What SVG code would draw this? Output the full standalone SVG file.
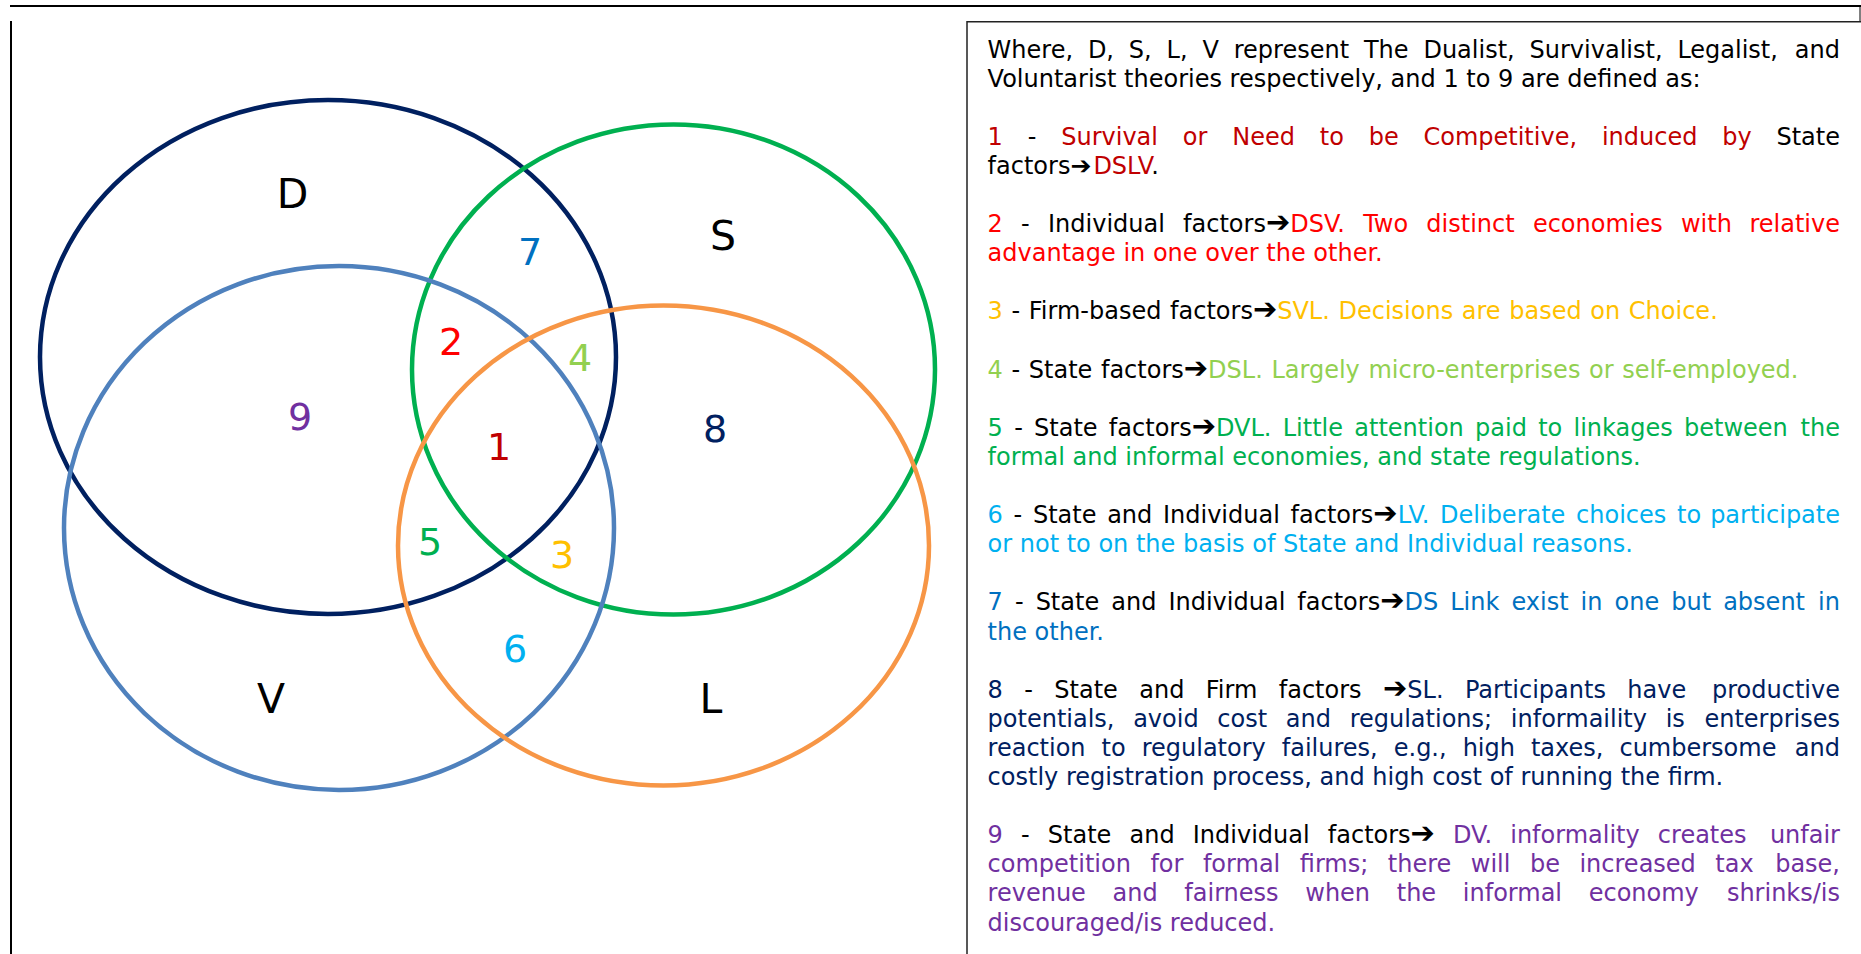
<svg xmlns="http://www.w3.org/2000/svg" width="1861" height="954" viewBox="0 0 1861 954">
  <style>
    .set { fill: none; stroke-width: 4.5; }
    .letter { font-family: "DejaVu Sans", Verdana, sans-serif; font-size: 41px; fill: #000; text-anchor: middle; }
    .num { font-family: "DejaVu Sans", Verdana, sans-serif; font-size: 38px; text-anchor: middle; }
    .t { font-family: "DejaVu Sans", Verdana, sans-serif; font-size: 24px; fill: #000; }
    .ar { font-size: 29px; fill: #000; }
    .ar-sm { font-size: 25px; fill: #000; }
    .e { text-anchor: end; }
    .c1 { fill: #C00000; }
    .c2 { fill: #FF0000; }
    .c3 { fill: #FFC000; }
    .c4 { fill: #92D050; }
    .c5 { fill: #00B050; }
    .c6 { fill: #00B0F0; }
    .c7 { fill: #0070C0; }
    .c8 { fill: #002060; }
    .c9 { fill: #7030A0; }
    .frame { fill: none; stroke: #000; }
  </style>

  <rect width="1861" height="954" fill="#fff"/>

  <!-- page frame -->
  <g id="frame">
    <line class="frame" x1="10" y1="6" x2="1861" y2="6" stroke-width="2"/>
    <line class="frame" x1="1860" y1="6" x2="1860" y2="22" stroke-width="1" stroke="#444"/>
    <line class="frame" x1="11" y1="21" x2="11" y2="954" stroke-width="2"/>
  </g>

  <!-- the four theory sets -->
  <g id="set-D">
    <ellipse class="set" cx="328" cy="357" rx="288" ry="257" stroke="#002060"/>
    <text class="letter" x="292.5" y="208">D</text>
  </g>
  <g id="set-S">
    <ellipse class="set" cx="673.5" cy="369.5" rx="261.5" ry="245" stroke="#00B050"/>
    <text class="letter" x="723" y="250">S</text>
  </g>
  <g id="set-V">
    <ellipse class="set" cx="339" cy="528" rx="275" ry="262" stroke="#4F81BD"/>
    <text class="letter" x="271" y="713">V</text>
  </g>
  <g id="set-L">
    <ellipse class="set" cx="663.5" cy="545.5" rx="265.5" ry="240" stroke="#F79646"/>
    <text class="letter" x="711" y="713">L</text>
  </g>

  <!-- numbered overlap regions -->
  <g id="regions">
    <g id="region-1"><text class="num c1" x="499" y="460">1</text></g>
    <g id="region-2"><text class="num c2" x="451" y="355">2</text></g>
    <g id="region-3"><text class="num c3" x="562" y="568">3</text></g>
    <g id="region-4"><text class="num c4" x="580" y="371">4</text></g>
    <g id="region-5"><text class="num c5" x="430" y="555">5</text></g>
    <g id="region-6"><text class="num c6" x="515" y="662">6</text></g>
    <g id="region-7"><text class="num c7" x="530" y="265">7</text></g>
    <g id="region-8"><text class="num c8" x="715" y="442">8</text></g>
    <g id="region-9"><text class="num c9" x="300" y="430">9</text></g>
  </g>

  <!-- legend box: justified lines use word-spacing, last word pinned to the right margin -->
  <g id="legend">
    <path d="M967,954 V21.7 H1861" fill="none" stroke="#222" stroke-width="1.5"/>

    <text class="t" y="57.5" style="word-spacing:7.23px"><tspan x="987.6">Where, D, S, L, V represent The Dualist, Survivalist, Legalist,</tspan><tspan x="1840" class="e">and</tspan></text>
    <text class="t" x="987.6" y="86.6">Voluntarist theories respectively, and 1 to 9 are defined as:</text>

    <text class="t" y="144.8" style="word-spacing:17.2px"><tspan x="987.6" class="c1">1</tspan> - <tspan class="c1">Survival or Need to be Competitive, induced by</tspan><tspan x="1840" class="e">State</tspan></text>
    <text class="t" x="987.6" y="173.9">factors<tspan class="ar-sm">➔</tspan><tspan class="c1" dx="2">DSLV</tspan>.</text>

    <text class="t" y="232.1" style="word-spacing:10.6px"><tspan x="987.6" class="c2">2</tspan> - Individual factors<tspan class="ar">➔</tspan><tspan class="c2">DSV. Two distinct economies with</tspan><tspan x="1840" class="e c2">relative</tspan></text>
    <text class="t c2" x="987.6" y="261.2">advantage in one over the other.</text>

    <text class="t" x="987.6" y="319.4" style="word-spacing:1px"><tspan class="c3">3</tspan> - Firm-based factors<tspan class="ar">➔</tspan><tspan class="c3">SVL. Decisions are based on Choice.</tspan></text>

    <text class="t" x="987.6" y="377.6" style="word-spacing:1px"><tspan class="c4">4</tspan> - State factors<tspan class="ar">➔</tspan><tspan class="c4">DSL. Largely micro-enterprises or self-employed.</tspan></text>

    <text class="t" y="435.8" style="word-spacing:3.64px"><tspan x="987.6" class="c5">5</tspan> - State factors<tspan class="ar">➔</tspan><tspan class="c5">DVL. Little attention paid to linkages between</tspan><tspan x="1840" class="e c5">the</tspan></text>
    <text class="t c5" x="987.6" y="464.9">formal and informal economies, and state regulations.</text>

    <text class="t" y="523.1" style="word-spacing:3.06px"><tspan x="987.6" class="c6">6</tspan> - State and Individual factors<tspan class="ar">➔</tspan><tspan class="c6">LV. Deliberate choices to</tspan><tspan x="1840" class="e c6">participate</tspan></text>
    <text class="t c6" x="987.6" y="552.2">or not to on the basis of State and Individual reasons.</text>

    <text class="t" y="610.4" style="word-spacing:4.42px"><tspan x="987.6" class="c7">7</tspan> - State and Individual factors<tspan class="ar">➔</tspan><tspan class="c7">DS Link exist in one but absent</tspan><tspan x="1840" class="e c7">in</tspan></text>
    <text class="t c7" x="987.6" y="639.5">the other.</text>

    <text class="t" y="697.7" style="word-spacing:13.77px"><tspan x="987.6" class="c8">8</tspan> - State and Firm factors <tspan class="ar">➔</tspan><tspan class="c8">SL. Participants have</tspan><tspan x="1840" class="e c8">productive</tspan></text>
    <text class="t c8" y="726.8" style="word-spacing:11.05px"><tspan x="987.6">potentials, avoid cost and regulations; informaility is</tspan><tspan x="1840" class="e">enterprises</tspan></text>
    <text class="t c8" y="755.9" style="word-spacing:8.38px"><tspan x="987.6">reaction to regulatory failures, e.g., high taxes, cumbersome</tspan><tspan x="1840" class="e">and</tspan></text>
    <text class="t c8" x="987.6" y="785">costly registration process, and high cost of running the firm.</text>

    <text class="t" y="843.2" style="word-spacing:10.51px"><tspan x="987.6" class="c9">9</tspan> - State and Individual factors<tspan class="ar">➔</tspan> <tspan class="c9">DV. informality creates</tspan><tspan x="1840" class="e c9">unfair</tspan></text>
    <text class="t c9" y="872.3" style="word-spacing:11.88px"><tspan x="987.6">competition for formal firms; there will be increased tax</tspan><tspan x="1840" class="e">base,</tspan></text>
    <text class="t c9" y="901.4" style="word-spacing:19.04px"><tspan x="987.6">revenue and fairness when the informal economy</tspan><tspan x="1840" class="e">shrinks/is</tspan></text>
    <text class="t c9" x="987.6" y="930.5">discouraged/is reduced.</text>
  </g>
</svg>
